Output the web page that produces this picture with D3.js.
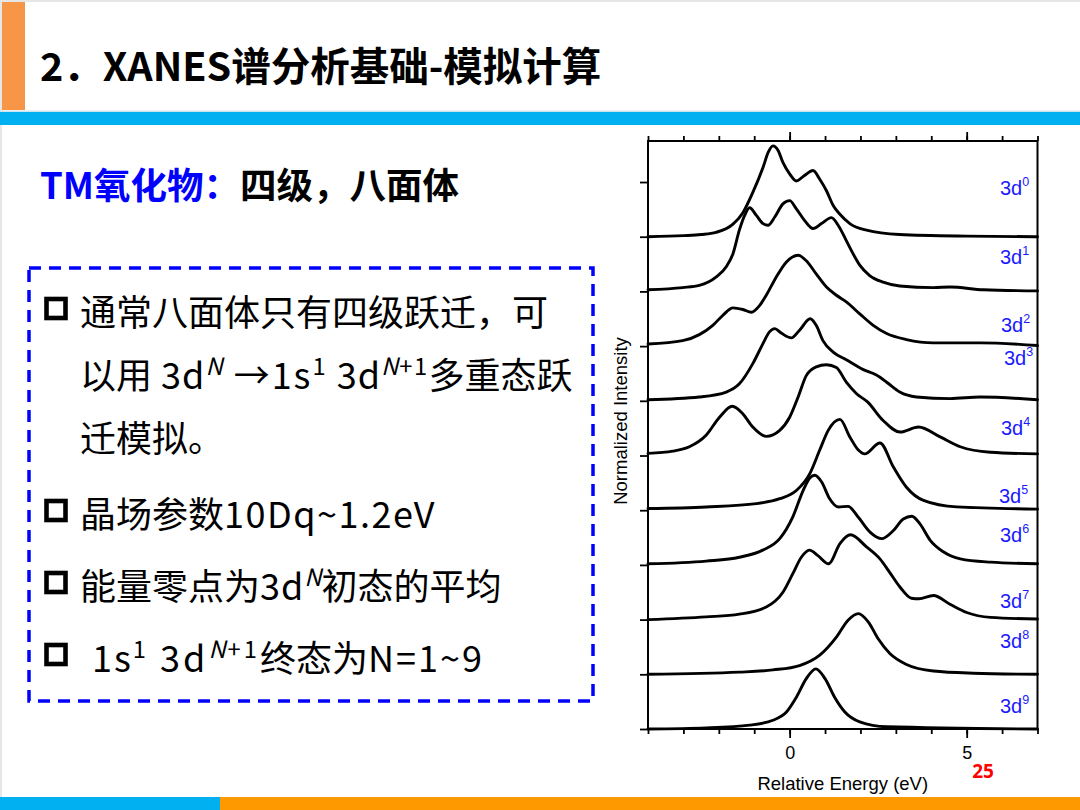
<!DOCTYPE html>
<html><head><meta charset="utf-8">
<script src="https://cdn.jsdelivr.net/npm/d3@7/dist/d3.min.js"></script>
<style>html,body{margin:0;padding:0;background:#fff;} svg{display:block;}</style>
</head><body>
<svg id="c" width="1080" height="810"></svg>
<script>
// ---------------- DATA ----------------
const configs = ["0","1","2","3","4","5","6","7","8","9"];      // 3d^N superscripts
const offsets = [9,8,7,6,5,4,3,2,1,0];                          // vertical stacking offset
const energyTicks = [-4,-3,-2,-1,0,1,2,3,4,5,6,7];
const energyMajor = [0,5];
const intensityTicks = [0,1,2,3,4,5,6,7,8,9,10];

// [relative energy (eV), normalized intensity above baseline]
const spec3d0 = [[-4,0],[-3,0.02],[-2.5,0.04],[-2.08,0.08],[-1.6,0.23],[-1.32,0.44],[-1.04,0.81],[-0.75,1.27],[-0.6,1.55],[-0.47,1.66],[-0.33,1.58],[-0.19,1.36],[0,1.15],[0.19,1.02],[0.42,1.12],[0.66,1.21],[0.85,1.05],[1.04,0.84],[1.23,0.57],[1.42,0.41],[1.7,0.24],[2.17,0.12],[3.1,0.04],[5,0.01],[7,0]];
const spec3d1 = [[-4,0.03],[-3.02,0.07],[-2.55,0.11],[-2.08,0.26],[-1.79,0.45],[-1.6,0.69],[-1.42,1.12],[-1.27,1.39],[-1.13,1.53],[-0.94,1.39],[-0.75,1.24],[-0.61,1.21],[-0.42,1.36],[-0.19,1.6],[0,1.66],[0.19,1.51],[0.42,1.3],[0.66,1.15],[0.9,1.24],[1.18,1.35],[1.37,1.21],[1.6,0.93],[1.79,0.69],[1.98,0.48],[2.26,0.29],[2.64,0.17],[3.11,0.1],[4.06,0.07],[4.53,0.08],[5.47,0.03],[7,0.01]];
const spec3d2 = [[-4,0.04],[-3.02,0.1],[-2.55,0.21],[-2.17,0.38],[-1.89,0.56],[-1.6,0.7],[-1.32,0.67],[-1.08,0.62],[-0.85,0.74],[-0.66,0.93],[-0.38,1.26],[-0.09,1.54],[0.24,1.66],[0.47,1.56],[0.75,1.32],[1.04,1.08],[1.32,0.93],[1.6,0.81],[1.98,0.59],[2.36,0.38],[2.74,0.23],[3.3,0.12],[4.06,0.06],[5.38,0.06],[7,0.01]];
const spec3d3 = [[-4,0.02],[-2.55,0.07],[-1.79,0.16],[-1.42,0.31],[-1.04,0.68],[-0.75,1.05],[-0.57,1.26],[-0.42,1.32],[-0.24,1.24],[0.05,1.15],[0.28,1.29],[0.58,1.5],[0.75,1.38],[0.94,1.1],[1.23,0.89],[1.6,0.75],[2.08,0.57],[2.45,0.47],[2.74,0.34],[3.11,0.16],[3.58,0.07],[4.53,0.04],[5.38,0.07],[7,0.02]];
const spec3d4 = [[-4,0.04],[-3.3,0.08],[-2.83,0.16],[-2.36,0.37],[-1.98,0.7],[-1.62,0.9],[-1.32,0.76],[-1.04,0.52],[-0.66,0.35],[-0.28,0.46],[0,0.7],[0.24,1.07],[0.47,1.46],[0.75,1.62],[1.04,1.66],[1.32,1.61],[1.6,1.34],[1.89,1.13],[2.2,0.98],[2.64,0.64],[3.12,0.43],[3.64,0.52],[4.25,0.34],[4.82,0.16],[5.67,0.06],[7,0.03]];
const spec3d5 = [[-4,0.03],[-2.36,0.06],[-0.94,0.12],[-0.28,0.21],[0.19,0.36],[0.57,0.67],[0.85,1.1],[1.09,1.46],[1.42,1.66],[1.7,1.34],[1.94,1.1],[2.12,1.03],[2.55,1.23],[2.93,0.79],[3.3,0.42],[3.78,0.18],[4.72,0.06],[7,0.02]];
const spec3d6 = [[-4,0.02],[-2.36,0.07],[-1.42,0.14],[-0.76,0.27],[-0.28,0.48],[0.09,0.88],[0.38,1.36],[0.57,1.59],[0.71,1.64],[0.9,1.52],[1.13,1.21],[1.37,1.06],[1.65,1.07],[1.94,0.87],[2.27,0.6],[2.6,0.48],[2.93,0.63],[3.21,0.84],[3.45,0.89],[3.68,0.75],[3.97,0.45],[4.34,0.24],[4.82,0.11],[5.67,0.05],[7,0.02]];
const spec3d7 = [[-4,0],[-2.36,0.05],[-1.42,0.1],[-0.66,0.23],[-0.19,0.5],[0.09,0.84],[0.33,1.14],[0.56,1.27],[0.8,1.17],[1.1,1.02],[1.42,1.39],[1.72,1.55],[2.17,1.33],[2.55,1.11],[2.83,0.86],[3.11,0.6],[3.44,0.39],[3.65,0.38],[4.06,0.44],[4.53,0.28],[5.0,0.13],[5.67,0.04],[7,0.01]];
const spec3d8 = [[-4,0],[-1.42,0.04],[-0.47,0.08],[0.28,0.16],[0.85,0.35],[1.32,0.68],[1.65,0.99],[1.94,1.11],[2.22,0.96],[2.5,0.65],[2.83,0.38],[3.3,0.18],[4.06,0.06],[5.19,0.02],[7,0]];
const spec3d9 = [[-4,0],[-2.36,0.02],[-1.13,0.07],[-0.47,0.16],[-0.09,0.31],[0.19,0.58],[0.47,0.92],[0.74,1.1],[1.0,0.92],[1.27,0.58],[1.56,0.31],[1.98,0.13],[2.74,0.04],[7,0]];
const spectra = [spec3d0,spec3d1,spec3d2,spec3d3,spec3d4,spec3d5,spec3d6,spec3d7,spec3d8,spec3d9];

// ---------------- LAYOUT ----------------
const W = 1080, H = 810;
const plot = {left: 648, right: 1037.5, top: 141, bottom: 729};
const labelPosY = [9.76, 8.51, 7.25, 6.65, 5.37, 4.13, 3.41, 2.21, 1.49, 0.29];
const labelPosX = [1000,1000,1001,1004,1001,999,1000,1000,1000,1000];
const CJK = "'Noto Sans CJK SC','Noto Sans',sans-serif";
const ARIAL = "'Liberation Sans',Arial,sans-serif";

const svg = d3.select("#c");
svg.append("rect").attr("x",0).attr("y",0).attr("width",W).attr("height",H).attr("fill","#fff");
svg.append("rect").attr("x",0).attr("y",0).attr("width",W).attr("height",2).attr("fill","#e6e6e6");
svg.append("rect").attr("x",0).attr("y",0).attr("width",2).attr("height",H).attr("fill","#e6e6e6");

// header
svg.append("rect").attr("x",2).attr("y",2).attr("width",23).attr("height",108).attr("fill","#F79646");
svg.append("rect").attr("x",0).attr("y",110.5).attr("width",W).attr("height",1.5).attr("fill","#cfe3ee");
svg.append("rect").attr("x",0).attr("y",112).attr("width",W).attr("height",13).attr("fill","#00B0F0");
svg.append("text").attr("x",40).attr("y",81)
  .attr("font-family",CJK).attr("font-weight",700).attr("font-size",39.5).attr("fill","#000")
  .text("2．XANES谱分析基础-模拟计算");

// subtitle
const sub = svg.append("text").attr("x",40).attr("y",199)
  .attr("font-family",CJK).attr("font-weight",700).attr("font-size",36.5);
sub.append("tspan").attr("fill","#0000FF").text("TM氧化物：");
sub.append("tspan").attr("fill","#000").text("四级，八面体");

// dashed box
svg.append("rect").attr("x",29).attr("y",268).attr("width",564).attr("height",433)
  .attr("fill","none").attr("stroke","#0000FF").attr("stroke-width",3.5)
  .attr("stroke-dasharray","12,8");

// bullets
function rich(x, y, fs, segs){
  const t = svg.append("text").attr("x",x).attr("y",y).attr("font-family",CJK)
    .attr("font-size",fs).attr("fill","#000");
  let raised = false;
  const rise = fs*0.4;
  segs.forEach(s=>{
    const sp = t.append("tspan").text(s.t);
    if(s.ls) sp.attr("letter-spacing",s.ls);
    if(s.sup){
      sp.attr("font-size",fs*0.66);
      if(!raised){ sp.attr("dy",-rise); raised = true; }
      if(s.i) sp.attr("font-style","italic");
    } else {
      if(raised){ sp.attr("dy",rise); raised = false; }
    }
  });
  return t;
}
const bulletFS = 36;
const bulletRows = [
  {y:326, box:true, segs:[{t:"通常八面体只有四级跃迁，可"}]},
  {y:389, box:false, segs:[{t:"以用"},{t:" 3d",ls:1},{t:"N",sup:1,i:1,ls:1},{t:" →1s",ls:2},{t:"1",sup:1,ls:2},{t:" 3d",ls:1},{t:"N",sup:1,i:1,ls:1},{t:"+1",sup:1,ls:1.5},{t:"多重态跃"}]},
  {y:452, box:false, segs:[{t:"迁模拟。"}]},
  {y:528, box:true, segs:[{t:"晶场参数"},{t:"10Dq~1.2eV",ls:1.5}]},
  {y:600, box:true, segs:[{t:"能量零点为"},{t:"3d",ls:1},{t:"N",sup:1,i:1},{t:"初态的平均"}]},
  {y:672, box:true, x:92, segs:[{t:"1s",ls:2},{t:"1",sup:1,ls:3},{t:" 3d",ls:3},{t:"N",sup:1,i:1,ls:2},{t:"+1",sup:1,ls:3},{t:"终态为"},{t:"N=1~9",ls:2}]}
];
bulletRows.forEach(r=>{
  if(r.box){
    svg.append("rect").attr("x",46.5).attr("y",r.y-27).attr("width",19).attr("height",19)
      .attr("fill","none").attr("stroke","#000").attr("stroke-width",4.6);
  }
  rich(r.x||80, r.y, bulletFS, r.segs);
});

// bottom bars
svg.append("rect").attr("x",0).attr("y",797).attr("width",220).attr("height",13).attr("fill","#00B0F0");
svg.append("rect").attr("x",220).attr("y",797).attr("width",W-220).attr("height",13).attr("fill","#FF9900");
svg.append("text").attr("x",983).attr("y",778).attr("text-anchor","middle")
  .attr("font-family","'Noto Sans',sans-serif").attr("font-weight",700).attr("font-size",19)
  .attr("fill","#FF0000").text("25");

// ---------------- CHART ----------------
const x = d3.scaleLinear().domain([-4,7]).range([plot.left, plot.right]);
const y = d3.scaleLinear().domain([0,10.75]).range([plot.bottom, plot.top]);
const chart = svg.append("g");

const line = d3.line().x(d=>x(d[0])).y(d=>y(d[1])).curve(d3.curveMonotoneX);
spectra.forEach((s,i)=>{
  chart.append("path")
    .attr("d", line(s.map(p=>[p[0], p[1]+offsets[i]])))
    .attr("fill","none").attr("stroke","#000").attr("stroke-width",2.9)
    .attr("stroke-linejoin","round").attr("stroke-linecap","round");
});

function styleAxis(g){
  g.select(".domain").remove();
  g.selectAll(".tick line").attr("stroke","#000").attr("stroke-width",1.8);
  g.selectAll(".tick text").attr("font-family",ARIAL).attr("font-size",18).attr("fill","#000");
}
chart.append("g").attr("transform",`translate(0,${plot.bottom})`)
  .call(d3.axisBottom(x).tickValues(energyTicks).tickSize(5).tickFormat(""))
  .call(styleAxis);
chart.append("g").attr("transform",`translate(0,${plot.bottom})`)
  .call(d3.axisBottom(x).tickValues(energyMajor).tickSize(9).tickPadding(8).tickFormat(d3.format("d")))
  .call(styleAxis);
chart.append("g").attr("transform",`translate(0,${plot.top})`)
  .call(d3.axisTop(x).tickValues(energyTicks).tickSize(5).tickFormat(""))
  .call(styleAxis);
chart.append("g").attr("transform",`translate(0,${plot.top})`)
  .call(d3.axisTop(x).tickValues(energyMajor).tickSize(9).tickFormat(""))
  .call(styleAxis);
chart.append("g").attr("transform",`translate(${plot.left},0)`)
  .call(d3.axisLeft(y).tickValues(intensityTicks).tickSize(8).tickFormat(""))
  .call(styleAxis);
chart.append("rect").attr("x",plot.left).attr("y",plot.top)
  .attr("width",plot.right-plot.left).attr("height",plot.bottom-plot.top)
  .attr("fill","none").attr("stroke","#000").attr("stroke-width",2);

chart.append("text").attr("x",(plot.left+plot.right)/2).attr("y",790).attr("text-anchor","middle")
  .attr("font-family",ARIAL).attr("font-size",18.5).attr("fill","#000").text("Relative Energy (eV)");
chart.append("text").attr("transform","translate(627,421) rotate(-90)").attr("text-anchor","middle")
  .attr("font-family",ARIAL).attr("font-size",18.5).attr("fill","#000").text("Normalized Intensity");

configs.forEach((c,i)=>{
  const t = chart.append("text").attr("x",labelPosX[i]).attr("y",y(labelPosY[i]))
    .attr("font-family",ARIAL).attr("font-size",20).attr("fill","#1a1aff");
  t.append("tspan").text("3d");
  t.append("tspan").attr("font-size",12.5).attr("dy",-9).text(c);
});
</script>
</body></html>
